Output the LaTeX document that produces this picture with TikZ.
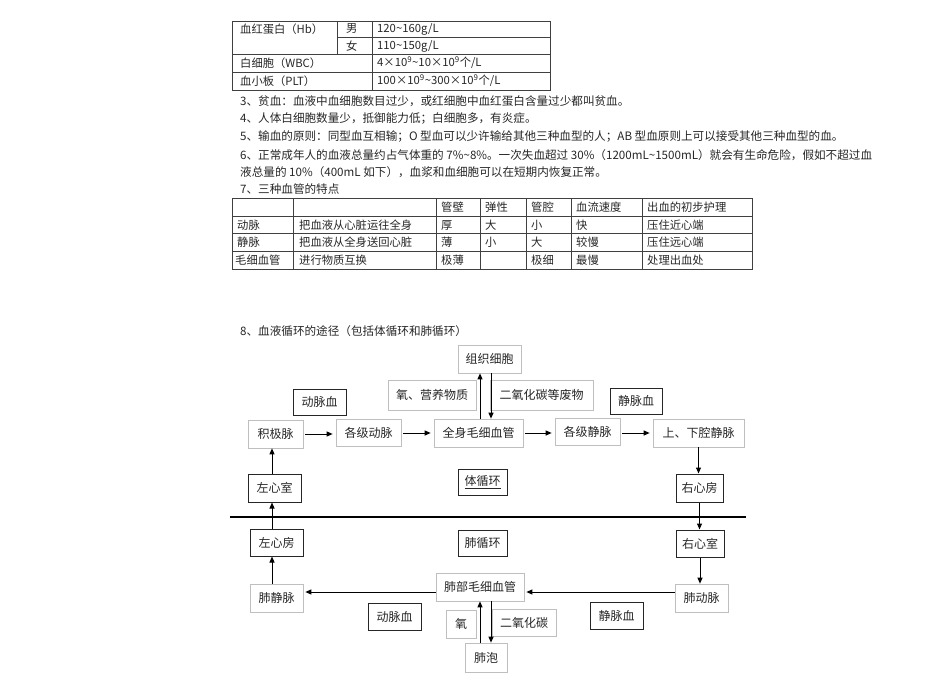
\documentclass[tikz,border=0pt]{standalone}
\usepackage{fontspec}
\setmainfont{Noto Sans CJK SC}
\usetikzlibrary{arrows.meta}
\begin{document}
\begin{tikzpicture}[x=1pt,y=-1pt,
  txt/.style={anchor=west,inner sep=0pt,font=\fontsize{11.6}{13}\selectfont,text=black!85},
  ttxt/.style={anchor=west,inner sep=0pt,font=\fontsize{11.3}{13}\selectfont,text=black!85},
  tline/.style={draw=black!75,line width=0.6pt},
  gbox/.style={draw=black!25,line width=0.7pt,inner sep=0pt,font=\fontsize{12}{14}\selectfont,text=black!85},
  bbox/.style={draw=black!85,line width=1pt,inner sep=0pt,font=\fontsize{12}{14}\selectfont,text=black!85},
  arr/.style={-{Triangle[length=6pt,width=5pt]},line width=1pt,black}]
\useasboundingbox (0,0) rectangle (950,672);
% ---------- table 1 ----------
\draw[tline] (232,21) rectangle (550,90);
\draw[tline] (337,37) -- (550,37);
\draw[tline] (232,54) -- (550,54);
\draw[tline] (232,72) -- (550,72);
\draw[tline] (337,21) -- (337,54);
\draw[tline] (372,21) -- (372,90);
\node[ttxt] (t1a) at (240,29) {血红蛋白（Hb）};
\node[ttxt] (t1b) at (346,29) {男};
\node[ttxt] (t1c) at (377,29) {120\textasciitilde160g/L};
\node[ttxt] (t1d) at (346,46) {女};
\node[ttxt] (t1e) at (377,46) {110\textasciitilde150g/L};
\node[ttxt] (t1f) at (240,63) {白细胞（WBC）};
\node[ttxt] (t1g) at (377,63) {4×10\textsuperscript{9}\textasciitilde10×10\textsuperscript{9}个/L};
\node[ttxt] (t1h) at (240,81) {血小板（PLT）};
\node[ttxt] (t1i) at (377,81) {100×10\textsuperscript{9}\textasciitilde300×10\textsuperscript{9}个/L};
% ---------- paragraphs ----------
\node[txt] (p3) at (240,101) {3、贫血：血液中血细胞数目过少，或红细胞中血红蛋白含量过少都叫贫血。};
\node[txt] (p4) at (240,119) {4、人体白细胞数量少，抵御能力低；白细胞多，有炎症。};
\node[txt] (p5) at (240,137) {5、输血的原则：同型血互相输；O 型血可以少许输给其他三种血型的人；AB 型血原则上可以接受其他三种血型的血。};
\node[txt] (p6) at (240,155) {6、正常成年人的血液总量约占气体重的 7\%\textasciitilde8\%。一次失血超过 30\%（1200mL\textasciitilde1500mL）就会有生命危险，假如不超过血};
\node[txt] (p6b) at (240,172) {液总量的 10\%（400mL 如下），血浆和血细胞可以在短期内恢复正常。};
\node[txt] (p7) at (240,189) {7、三种血管的特点};
% ---------- table 2 ----------
\draw[tline] (232,198) rectangle (752,269);
\foreach \yy in {216,233,251} \draw[tline] (232,\yy) -- (752,\yy);
\foreach \xx in {293,436,480,526,571,642} \draw[tline] (\xx,198) -- (\xx,269);
\node[ttxt] (h1) at (441,207) {管壁};
\node[ttxt] (h2) at (485,207) {弹性};
\node[ttxt] (h3) at (531,207) {管腔};
\node[ttxt] (h4) at (576,207) {血流速度};
\node[ttxt] (h5) at (647,207) {出血的初步护理};
\node[ttxt] (r1a) at (237,225) {动脉};
\node[ttxt] (r1b) at (299,225) {把血液从心脏运往全身};
\node[ttxt] (r1c) at (441,225) {厚};
\node[ttxt] (r1d) at (485,225) {大};
\node[ttxt] (r1e) at (531,225) {小};
\node[ttxt] (r1f) at (576,225) {快};
\node[ttxt] (r1g) at (647,225) {压住近心端};
\node[ttxt] (r2a) at (237,242) {静脉};
\node[ttxt] (r2b) at (299,242) {把血液从全身送回心脏};
\node[ttxt] (r2c) at (441,242) {薄};
\node[ttxt] (r2d) at (485,242) {小};
\node[ttxt] (r2e) at (531,242) {大};
\node[ttxt] (r2f) at (576,242) {较慢};
\node[ttxt] (r2g) at (647,242) {压住远心端};
\node[ttxt] (r3a) at (235,260) {毛细血管};
\node[ttxt] (r3b) at (299,260) {进行物质互换};
\node[ttxt] (r3c) at (441,260) {极薄};
\node[ttxt] (r3e) at (531,260) {极细};
\node[ttxt] (r3f) at (576,260) {最慢};
\node[ttxt] (r3g) at (647,260) {处理出血处};
% ---------- diagram ----------
\node[txt] (p8) at (240,331) {8、血液循环的途径（包括体循环和肺循环）};
\node[gbox,minimum width=63pt,minimum height=28pt] (zz) at (489.5,359) {组织细胞};
\node[gbox,minimum width=88pt,minimum height=30pt] (yy) at (432,395) {氧、营养物质};
\node[gbox,minimum width=103pt,minimum height=30pt] (eq) at (541.5,395) {二氧化碳等废物};
\node[bbox,minimum width=53pt,minimum height=26pt] (dm1) at (319.5,402) {动脉血};
\node[bbox,minimum width=52pt,minimum height=26pt] (jm1) at (636,401) {静脉血};
\node[gbox,minimum width=55pt,minimum height=28pt] (jj) at (275.5,434) {积极脉};
\node[gbox,minimum width=65pt,minimum height=27pt] (gd) at (368.5,432.5) {各级动脉};
\node[gbox,minimum width=89pt,minimum height=28pt] (qs) at (478.5,433) {全身毛细血管};
\node[gbox,minimum width=65pt,minimum height=27pt] (gj) at (587.5,431.5) {各级静脉};
\node[gbox,minimum width=91pt,minimum height=28pt] (sx) at (698.5,433) {上、下腔静脉};
\node[bbox,minimum width=53pt,minimum height=28pt] (zs) at (274.5,488) {左心室};
\node[bbox,minimum width=49pt,minimum height=26pt] (tx) at (482.5,482) {\underline{体循环}};
\node[bbox,minimum width=47pt,minimum height=28pt] (yf) at (699.5,488) {右心房};
\node[bbox,minimum width=53pt,minimum height=27pt] (zf) at (276.5,542.5) {左心房};
\node[bbox,minimum width=49pt,minimum height=26pt] (fx) at (482.5,543) {肺循环};
\node[bbox,minimum width=48pt,minimum height=27pt] (ys) at (700,543.5) {右心室};
\node[gbox,minimum width=53pt,minimum height=28pt] (fj) at (276.5,598) {肺静脉};
\node[gbox,minimum width=88pt,minimum height=28pt] (fb) at (480,587) {肺部毛细血管};
\node[gbox,minimum width=53pt,minimum height=28pt] (fd) at (701.5,598) {肺动脉};
\node[bbox,minimum width=53pt,minimum height=27pt] (dm2) at (394.5,616.5) {动脉血};
\node[bbox,minimum width=53pt,minimum height=27pt] (jm2) at (616.5,615.5) {静脉血};
\node[gbox,minimum width=30pt,minimum height=28pt] (ox) at (461,624) {氧};
\node[gbox,minimum width=64pt,minimum height=27pt] (co) at (524,622.5) {二氧化碳};
\node[gbox,minimum width=42pt,minimum height=29pt] (fp) at (486,657.5) {肺泡};
% divider
\coordinate (dl) at (230,517);
\coordinate (dr) at (746,517);
\draw[line width=1.2pt] (dl) -- (dr);
% arrows
\draw[arr] (qs.north -| 480,0) -- (zz.south -| 480,0);
\draw[arr] (zz.south -| 491,0) -- (qs.north -| 491,0);
\draw[arr] ([xshift=2pt]jj.east) -- ([xshift=-3pt]gd.west |- jj.east);
\draw[arr] ([xshift=2pt]gd.east |- qs.west) -- ([xshift=-3pt]qs.west);
\draw[arr] ([xshift=2pt]qs.east) -- ([xshift=-3pt]gj.west |- qs.east);
\draw[arr] ([xshift=2pt]gj.east |- sx.west) -- ([xshift=-3pt]sx.west);
\draw[arr] (sx.south) -- (yf.north -| sx.south);
\draw[arr] (zs.north -| 272,0) -- (jj.south -| 272,0);
\draw[arr] (zf.north -| 272,0) -- (zs.south -| 272,0);
\draw[arr] (yf.south) -- (ys.north -| yf.south);
\draw[arr] (ys.south) -- (fd.north -| ys.south);
\draw[arr] (fj.north -| 272,0) -- (zf.south -| 272,0);
\draw[arr] (fd.west |- 0,592) -- ([xshift=2pt]fb.east |- 0,592);
\draw[arr] (fb.west |- 0,592) -- ([xshift=2pt]fj.east |- 0,592);
\draw[arr] (fp.north -| 480,0) -- (fb.south -| 480,0);
\draw[arr] (fb.south -| 491,0) -- (fp.north -| 491,0);
\end{tikzpicture}
\end{document}
